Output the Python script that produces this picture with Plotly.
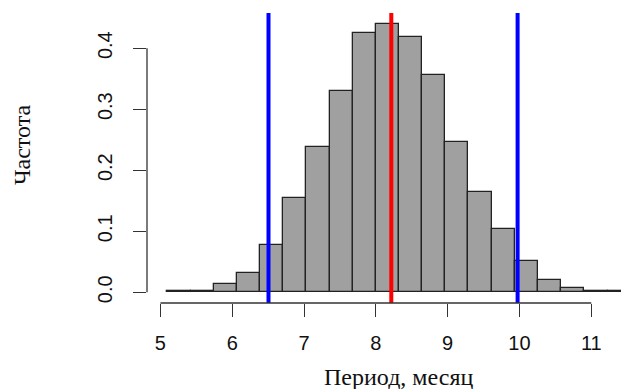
import plotly.graph_objects as go

# Histogram of the period (months): bin edges and density per bin
bin_edges = [5.097, 5.419, 5.742, 6.065, 6.387, 6.710, 7.032, 7.355, 7.677,
             8.000, 8.323, 8.645, 8.968, 9.290, 9.613, 9.935, 10.258, 10.581,
             10.903, 11.226, 11.548]
density = [0.002, 0.002, 0.0137, 0.032, 0.078, 0.155, 0.238, 0.329, 0.425,
           0.439, 0.418, 0.356, 0.247, 0.165, 0.103, 0.052, 0.020, 0.0066,
           0.002, 0.002]

# Interval bounds and central value
lower_bound = 6.505
center_value = 8.215
upper_bound = 9.974

x_ticks = [5, 6, 7, 8, 9, 10, 11]
y_ticks = [0.0, 0.1, 0.2, 0.3, 0.4]
y_tick_text = ["0.0", "0.1", "0.2", "0.3", "0.4"]

centers = [(a + b) / 2 for a, b in zip(bin_edges[:-1], bin_edges[1:])]
widths = [b - a for a, b in zip(bin_edges[:-1], bin_edges[1:])]

fig = go.Figure()
fig.add_trace(go.Bar(
    x=centers, y=density, width=widths,
    marker=dict(color="#a0a0a0", line=dict(color="#222222", width=1.3)),
    hoverinfo="x+y", showlegend=False,
))

for xv, col in [(lower_bound, "#0000ff"), (center_value, "#ff0000"), (upper_bound, "#0000ff")]:
    fig.add_shape(type="line", xref="x", yref="paper", x0=xv, x1=xv, y0=0, y1=1,
                  line=dict(color=col, width=4))

# R-style axis lines spanning only the tick range
axis_col = "#333333"
fig.add_shape(type="line", xref="x", yref="paper", x0=x_ticks[0], x1=x_ticks[-1],
              y0=0, y1=0, line=dict(color=axis_col, width=1.3))
fig.add_shape(type="line", xref="paper", yref="y", x0=0, x1=0,
              y0=y_ticks[0], y1=y_ticks[-1], line=dict(color=axis_col, width=1.3))

tick_font = dict(family="Liberation Sans, Arial, sans-serif", size=20, color="#111111")
title_font = dict(family="Liberation Serif, Times New Roman, serif", size=24, color="#111111")

fig.update_layout(
    width=621, height=389,
    margin=dict(l=147, r=0, t=13, b=86),
    paper_bgcolor="white", plot_bgcolor="white",
    bargap=0,
    xaxis=dict(range=[4.813, 11.414], tickvals=x_ticks, ticks="outside", ticklen=13,
               tickwidth=1.3, tickcolor=axis_col, showline=False, showgrid=False,
               zeroline=False, tickfont=tick_font, ticklabelstandoff=9),
    yaxis=dict(range=[-0.0176, 0.4576], tickvals=y_ticks, ticktext=y_tick_text,
               ticks="outside", ticklen=13, tickwidth=1.3, tickcolor=axis_col,
               tickangle=-90, showline=False, showgrid=False, zeroline=False,
               tickfont=tick_font, ticklabelstandoff=13),
    annotations=[
        dict(text="Период, месяц", xref="paper", yref="paper", x=0.531, y=-0.254,
             xanchor="center", yanchor="middle", showarrow=False, font=title_font),
        dict(text="Частота", xref="paper", yref="paper", x=-0.265, y=0.546,
             xanchor="center", yanchor="middle", textangle=-90, showarrow=False,
             font=title_font),
    ],
)

fig.write_html("out.html")
